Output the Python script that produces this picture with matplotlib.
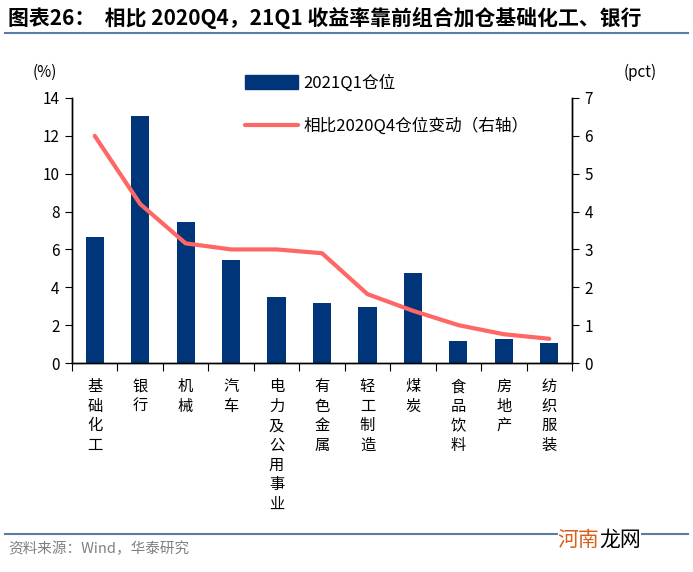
import matplotlib
matplotlib.use("Agg")
import matplotlib.pyplot as plt
from matplotlib.lines import Line2D

plt.rcParams["font.family"] = ["Noto Sans CJK SC", "DejaVu Sans"]

NAVY = "#003679"
RED = "#FF6666"
RULE = "#5B7BA8"
GREY = "#808080"

categories = ["基础化工", "银行", "机械", "汽车", "电力及公用事业", "有色金属",
              "轻工制造", "煤炭", "食品饮料", "房地产", "纺织服装"]
position_21q1 = [6.66, 13.05, 7.43, 5.42, 3.49, 3.17, 2.97, 4.77, 1.16, 1.25, 1.07]
change_vs_20q4 = [6.0, 4.2, 3.16, 3.0, 3.0, 2.9, 1.82, 1.38, 1.0, 0.76, 0.64]
left_ticks = [0, 2, 4, 6, 8, 10, 12, 14]
right_ticks = [0, 1, 2, 3, 4, 5, 6, 7]

fig = plt.figure(figsize=(6.93, 5.72), dpi=100)
ax = fig.add_axes([72 / 693, 1 - 363 / 572, 500 / 693, 265 / 572])
ax2 = ax.twinx()

x = list(range(len(categories)))
ax.bar(x, position_21q1, width=0.4, color=NAVY, zorder=2)
ax2.plot(x, change_vs_20q4, color=RED, linewidth=3, solid_capstyle="round", zorder=3)

ax.set_xlim(-0.5, len(categories) - 0.5)
ax.set_ylim(0, 14)
ax2.set_ylim(0, 7)
ax.set_yticks(left_ticks)
ax2.set_yticks(right_ticks)
ax.tick_params(axis="y", direction="out", length=5, labelsize=11, pad=4)
ax2.tick_params(axis="y", direction="out", length=5, labelsize=11, pad=4)

# category boundaries carry the ticks, labels sit vertically in the middle
ax.set_xticks([i - 0.5 for i in range(len(categories) + 1)])
ax.set_xticklabels([])
ax.tick_params(axis="x", direction="out", length=6)
for i, name in enumerate(categories):
    ax.text(i, -0.8, "\n".join(name), ha="center", va="top", fontsize=11,
            linespacing=1.2, transform=ax.transData)

for a in (ax, ax2):
    a.spines["top"].set_visible(False)
    for s in ("left", "right", "bottom"):
        a.spines[s].set_color("black")
        a.spines[s].set_linewidth(1)

fig.text(45 / 693, 1 - 72 / 572, "(%)", fontsize=11, ha="center", va="center")
fig.text(640 / 693, 1 - 72 / 572, "(pct)", fontsize=11, ha="center", va="center")

handles = [
    plt.Rectangle((0, 0), 1, 1, color=NAVY),
    Line2D([0], [0], color=RED, linewidth=3, solid_capstyle="round"),
]
ax.legend(handles, ["2021Q1仓位", "相比2020Q4仓位变动（右轴）"],
          loc="upper left", bbox_to_anchor=(0.315, 1.145), frameon=False,
          fontsize=12, handlelength=3.2, handleheight=0.9, labelspacing=1.55,
          handletextpad=0.35)

# title and rules
fig.text(8 / 693, 1 - 18 / 572, "图表26：  相比 2020Q4，21Q1 收益率靠前组合加仓基础化工、银行",
         fontsize=15, fontweight="bold", ha="left", va="center")
fig.add_artist(Line2D([5 / 693, 688 / 693], [1 - 33 / 572] * 2, color=RULE, linewidth=1.5))
fig.add_artist(Line2D([5 / 693, 688 / 693], [1 - 534 / 572] * 2, color=RULE, linewidth=1.5))
fig.text(8 / 693, 1 - 549 / 572, "资料来源：Wind，华泰研究", fontsize=10.5, color=GREY,
         ha="left", va="center")
fig.text(0.865, 1 - 540 / 572, "河南", fontsize=15, color="#D9601A", ha="right", va="center",
         bbox=dict(facecolor="white", edgecolor="none", pad=0))
fig.text(0.865, 1 - 540 / 572, "龙网", fontsize=15, color="black", ha="left", va="center",
         bbox=dict(facecolor="white", edgecolor="none", pad=0))

fig.savefig("out.png", dpi=100, facecolor="white")
